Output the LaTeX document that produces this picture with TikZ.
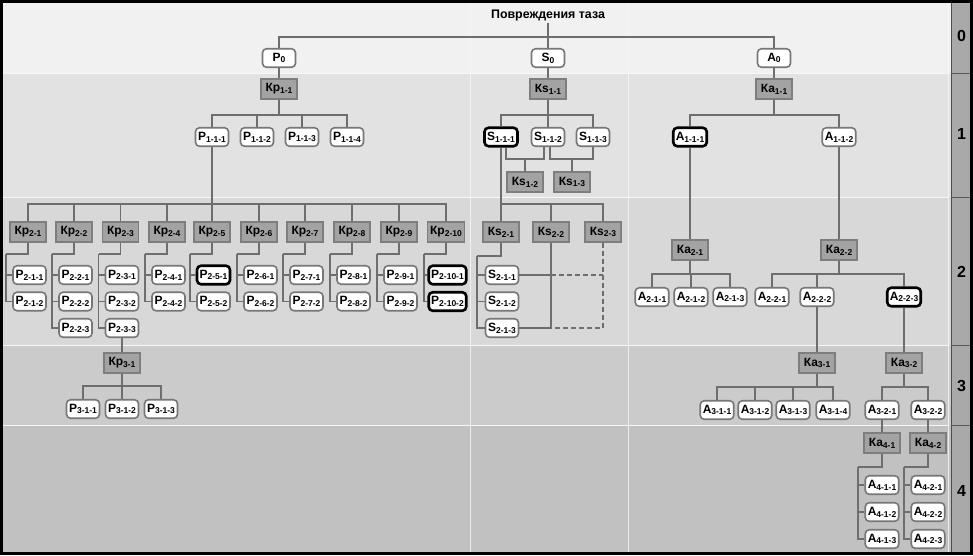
\documentclass[tikz,border=0pt]{standalone}
\usepackage{fontspec}
\setmainfont{Liberation Sans}
\usetikzlibrary{calc}
\definecolor{bgA}{HTML}{F1F1F1}
\definecolor{bgB}{HTML}{E2E2E2}
\definecolor{bgC}{HTML}{D8D8D8}
\definecolor{bgD}{HTML}{CBCBCB}
\definecolor{bgE}{HTML}{C1C1C1}
\definecolor{stripc}{HTML}{A9A9A9}
\definecolor{sepc}{HTML}{F7F7F7}
\definecolor{leafc}{HTML}{777777}
\definecolor{kfill}{HTML}{A3A3A3}
\definecolor{kline}{HTML}{7E7E7E}
\definecolor{lnc}{HTML}{6E6E6E}
\newcommand\nlab[2]{{\fontsize{12}{12}\selectfont #1}{\fontsize{8.5}{8.5}\selectfont\raisebox{-1.8pt}{#2}}}
\newcommand\busedge[3]{\draw[conn] (#1.south) -- (#1.south |- #3) -| (#2.north);}
\begin{document}
\begin{tikzpicture}[x=1pt,y=-1pt,
 leaf/.style={draw=leafc, line width=1.6pt, rounded corners=4pt, fill=white, minimum height=18.5pt, minimum width=33pt, inner xsep=2.5pt, inner ysep=0pt, font=\bfseries},
 leafhl/.style={leaf, draw=black, line width=2.6pt},
 knode/.style={draw=kline, fill=kfill, line width=1.5pt, minimum height=20pt, minimum width=36pt, inner xsep=2.5pt, inner ysep=0pt, font=\bfseries},
 conn/.style={draw=lnc, line width=1.7pt},
 dconn/.style={conn, dash pattern=on 5pt off 3pt},
 rowlab/.style={font=\bfseries\fontsize{16}{16}\selectfont, inner sep=0pt}
]
\useasboundingbox (0,0) rectangle (973,555);
% background bands
\fill[bgA] (2,2) rectangle (951,73);
\fill[bgB] (2,73) rectangle (951,197);
\fill[bgC] (2,197) rectangle (951,345);
\fill[bgD] (2,345) rectangle (951,425);
\fill[bgE] (2,425) rectangle (951,553);
\foreach \yy in {73,197,345,425} \draw[sepc, line width=1pt] (2,\yy) -- (948,\yy);
\foreach \xx in {470,628,948} \draw[sepc, line width=0.9pt, opacity=0.8] (\xx,2) -- (\xx,553);
% right strip
\fill[stripc] (951,2) rectangle (972,553);
\draw[black!70, line width=1pt] (951,2) -- (951,553);
\foreach \yy in {73,197,345,425} \draw[black!65, line width=1pt] (951,\yy) -- (972,\yy);
\node[rowlab] (r0) at (961.5,36) {0};
\node[rowlab] (r1) at (961.5,134) {1};
\node[rowlab] (r2) at (961.5,272) {2};
\node[rowlab] (r3) at (961.5,386) {3};
\node[rowlab] (r4) at (961.5,491) {4};
% frame
\draw[black, line width=2.6pt] (1.3,1.3) rectangle (971.7,553.7);

% bus levels
\coordinate (b0) at (0,37);
\coordinate (b1) at (0,115);
\coordinate (b2) at (0,204);
\coordinate (b3) at (0,274);
\coordinate (b4) at (0,387);
\coordinate (b5) at (0,386);

% title and level 0
\node[font=\bfseries\fontsize{12.4}{14}\selectfont, inner sep=1pt] (root) at (548,16) {Повреждения таза};
\node[leaf] (P0) at (279,58) {\nlab{P}{0}};
\node[leaf] (S0) at (548,58) {\nlab{S}{0}};
\node[leaf] (A0) at (774,58) {\nlab{A}{0}};
\busedge{root}{P0}{b0}
\busedge{root}{S0}{b0}
\busedge{root}{A0}{b0}

% level 1 classifiers
\node[knode] (Kp11) at (279,89) {\nlab{Кр}{1-1}};
\node[knode] (Ks11) at (548,89) {\nlab{Кs}{1-1}};
\node[knode] (Ka11) at (774,89) {\nlab{Ка}{1-1}};
\draw[conn] (P0.south) -- (Kp11.north);
\draw[conn] (S0.south) -- (Ks11.north);
\draw[conn] (A0.south) -- (Ka11.north);

% level 1 leaves
\node[leaf] (P111) at (212,137) {\nlab{P}{1-1-1}};
\node[leaf] (P112) at (257,137) {\nlab{P}{1-1-2}};
\node[leaf] (P113) at (302,137) {\nlab{P}{1-1-3}};
\node[leaf] (P114) at (347,137) {\nlab{P}{1-1-4}};
\foreach \c in {P111,P112,P113,P114} {\busedge{Kp11}{\c}{b1}}
\node[leafhl] (S111) at (501,137) {\nlab{S}{1-1-1}};
\node[leaf] (S112) at (548,137) {\nlab{S}{1-1-2}};
\node[leaf] (S113) at (593,137) {\nlab{S}{1-1-3}};
\foreach \c in {S111,S112,S113} {\busedge{Ks11}{\c}{b1}}
\node[leafhl] (A111) at (690,137) {\nlab{A}{1-1-1}};
\node[leaf] (A112) at (839,137) {\nlab{A}{1-1-2}};
\busedge{Ka11}{A111}{b1}
\busedge{Ka11}{A112}{b1}

% Ks1-2, Ks1-3
\node[knode] (Ks12) at (525,182) {\nlab{Кs}{1-2}};
\node[knode] (Ks13) at (572,182) {\nlab{Кs}{1-3}};
\draw[conn] ($(S111.south)+(5,0)$) |- ($(S112.south)+(-4,12)$) -- ($(S112.south)+(-4,0)$);
\draw[conn] (Ks12.north) -- ++(0,-11);
\draw[conn] ($(S112.south)+(2,0)$) |- ($(S113.south)+(0,12)$) -- (S113.south);
\draw[conn] (Ks13.north) -- ++(0,-11);

% level 2, P branch
\foreach \i/\x/\n in {1/28/2, 2/74/3, 3/120.5/3, 4/167/2, 5/212/2, 6/259/2, 7/305/2, 8/352/2, 9/399/2, 10/446/2} {
  \node[knode] (Kp2\i) at (\x,232) {\nlab{Кр}{2-\i}};
  \draw[conn] (P111.south) -- (P111.south |- b2) -| (Kp2\i.north);
  \coordinate (t\i) at ($(Kp2\i.south)+(-22,11)$);
  \draw[conn] (Kp2\i.south) -- ++(0,11) -- (t\i);
  \foreach \j in {1,...,\n} {
    \def\hcol{leafc}\def\hlw{1.6pt}
    \ifnum\i\j=51 \def\hcol{black}\def\hlw{2.6pt}\fi
    \ifnum\i\j=101 \def\hcol{black}\def\hlw{2.6pt}\fi
    \ifnum\i\j=102 \def\hcol{black}\def\hlw{2.6pt}\fi
    \node[leaf, draw=\hcol, line width=\hlw] (P2\i\j) at ({\x+1.5},{275+26.5*(\j-1)}) {\nlab{P}{2-\i-\j}};
    \draw[conn] (t\i) |- (P2\i\j.west);
  }
}

% level 3, P branch
\node[knode] (Kp31) at (122,363) {\nlab{Кр}{3-1}};
\draw[conn] (P233.south) -- (P233.south |- Kp31.north);
\node[leaf] (P311) at (83,409) {\nlab{P}{3-1-1}};
\node[leaf] (P312) at (122,409) {\nlab{P}{3-1-2}};
\node[leaf] (P313) at (161,409) {\nlab{P}{3-1-3}};
\foreach \c in {P311,P312,P313} {\busedge{Kp31}{\c}{b5}}

% level 2, S branch
\node[knode] (Ks21) at (501,232) {\nlab{Кs}{2-1}};
\node[knode] (Ks22) at (551,232) {\nlab{Кs}{2-2}};
\node[knode] (Ks23) at (603,232) {\nlab{Кs}{2-3}};
\foreach \c in {Ks21,Ks22,Ks23} {\busedge{S111}{\c}{b2}}
\node[leaf] (S211) at (502,275) {\nlab{S}{2-1-1}};
\node[leaf] (S212) at (502,301.5) {\nlab{S}{2-1-2}};
\node[leaf] (S213) at (502,328) {\nlab{S}{2-1-3}};
\coordinate (ts) at ($(Ks21.south)+(-24,13)$);
\draw[conn] (Ks21.south) -- ++(0,13) -- (ts);
\foreach \c in {S211,S212,S213} {\draw[conn] (ts) |- (\c.west);}
\draw[conn] (Ks22.south) -- (Ks22.south |- S213.east) -- (S213.east);
\draw[conn] (S211.east) -- (S211.east -| Ks22.south);
\draw[dconn] (S211.east -| Ks22.south) -- (S211.east -| Ks23.south);
\draw[dconn] (Ks23.south) -- (Ks23.south |- S213.east) -- (S213.east -| Ks22.south);

% level 2, A branch
\node[knode] (Ka21) at (690,250) {\nlab{Ка}{2-1}};
\node[knode] (Ka22) at (839,250) {\nlab{Ка}{2-2}};
\draw[conn] (A111.south) -- (Ka21.north);
\draw[conn] (A112.south) -- (Ka22.north);
\node[leaf] (A211) at (652,297) {\nlab{A}{2-1-1}};
\node[leaf] (A212) at (691,297) {\nlab{A}{2-1-2}};
\node[leaf] (A213) at (730,297) {\nlab{A}{2-1-3}};
\foreach \c in {A211,A212,A213} {\busedge{Ka21}{\c}{b3}}
\node[leaf] (A221) at (772,297) {\nlab{A}{2-2-1}};
\node[leaf] (A222) at (817,297) {\nlab{A}{2-2-2}};
\node[leafhl] (A223) at (904,297) {\nlab{A}{2-2-3}};
\foreach \c in {A221,A222,A223} {\busedge{Ka22}{\c}{b3}}

% level 3, A branch
\node[knode] (Ka31) at (817,363) {\nlab{Ка}{3-1}};
\node[knode] (Ka32) at (904,363) {\nlab{Ка}{3-2}};
\draw[conn] (A222.south) -- (Ka31.north);
\draw[conn] (A223.south) -- (Ka32.north);
\node[leaf] (A311) at (717,410) {\nlab{A}{3-1-1}};
\node[leaf] (A312) at (755,410) {\nlab{A}{3-1-2}};
\node[leaf] (A313) at (793,410) {\nlab{A}{3-1-3}};
\node[leaf] (A314) at (833,410) {\nlab{A}{3-1-4}};
\foreach \c in {A311,A312,A313,A314} {\busedge{Ka31}{\c}{b4}}
\node[leaf] (A321) at (882,410) {\nlab{A}{3-2-1}};
\node[leaf] (A322) at (928,410) {\nlab{A}{3-2-2}};
\foreach \c in {A321,A322} {\busedge{Ka32}{\c}{b4}}

% level 4, A branch
\node[knode] (Ka41) at (882,443) {\nlab{Ка}{4-1}};
\node[knode] (Ka42) at (928,443) {\nlab{Ка}{4-2}};
\draw[conn] (A321.south) -- (Ka41.north);
\draw[conn] (A322.south) -- (Ka42.north);
\foreach \k/\x in {1/882, 2/928} {
  \coordinate (ta\k) at ($(Ka4\k.south)+(-24,13)$);
  \draw[conn] (Ka4\k.south) -- ++(0,13) -- (ta\k);
  \foreach \j in {1,2,3} {
    \node[leaf] (A4\k\j) at (\x,{485+27*(\j-1)}) {\nlab{A}{4-\k-\j}};
    \draw[conn] (ta\k) |- (A4\k\j.west);
  }
}
\end{tikzpicture}
\end{document}
